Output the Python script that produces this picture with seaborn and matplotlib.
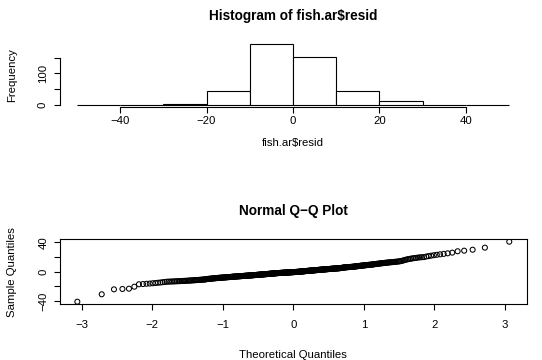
import statistics
import numpy as np
import pandas as pd
import matplotlib
matplotlib.use("Agg")
import matplotlib.pyplot as plt
import seaborn as sns

resid = [
    -40.8, -30.7, -24.0, -23.5, -23.1, -20.4,
    -17.1, -16.8, -16.4, -16.1, -15.7, -15.4, -15.0, -14.7, -14.3, -14.0, -13.6,
    -13.5, -13.4, -13.3, -13.2, -13.1, -13.0, -12.9, -12.8, -12.7, -12.6, -12.5, -12.4,
    -12.3, -12.2, -12.1, -12.0, -11.9, -11.8, -11.7, -11.6, -11.5, -11.4, -11.3, -11.2,
    -11.1, -11.0, -10.9, -10.8, -10.7, -10.6, -10.5, -10.4, -10.2,
    -9.9, -9.8, -9.7, -9.6, -9.5, -9.4, -9.3, -9.2, -9.1, -9.0, -8.9, -8.8, -8.7, -8.6, -8.5,
    -8.4, -8.3, -8.3, -8.2, -8.1, -8.1, -8.0, -7.9, -7.9, -7.8, -7.7, -7.7, -7.6, -7.5, -7.5,
    -7.4, -7.3, -7.3, -7.2, -7.1, -7.1, -7.0, -6.9, -6.9, -6.8, -6.7, -6.7, -6.6, -6.5, -6.5,
    -6.4, -6.4, -6.3, -6.3, -6.2, -6.2, -6.1, -6.1, -6.0, -6.0, -5.9, -5.9, -5.8, -5.8,
    -5.7, -5.7, -5.6, -5.6, -5.5, -5.5,
    -5.4, -5.4, -5.3, -5.3, -5.2, -5.2, -5.1, -5.1, -5.0, -5.0, -4.9, -4.9, -4.8, -4.8,
    -4.7, -4.7, -4.6, -4.6, -4.5, -4.5,
    -4.4, -4.4, -4.3, -4.3, -4.2, -4.2, -4.1, -4.1, -4.0, -4.0, -3.9, -3.9, -3.8, -3.8,
    -3.7, -3.7, -3.6, -3.6, -3.5, -3.5,
    -3.4, -3.4, -3.3, -3.3, -3.2, -3.2, -3.1, -3.1, -3.0, -3.0, -2.9, -2.9, -2.8, -2.8,
    -2.7, -2.7, -2.6, -2.6, -2.5, -2.5,
    -2.4, -2.4, -2.3, -2.3, -2.2, -2.2, -2.1, -2.1, -2.0, -2.0,
    -1.9, -1.9, -1.9, -1.8, -1.8, -1.8, -1.7, -1.7, -1.7, -1.6, -1.6, -1.6,
    -1.5, -1.5, -1.5, -1.4, -1.4, -1.4,
    -1.3, -1.3, -1.3, -1.2, -1.2, -1.2, -1.1, -1.1, -1.1, -1.0, -1.0, -1.0,
    -0.9, -0.9, -0.9, -0.8, -0.8, -0.8,
    -0.7, -0.7, -0.7, -0.6, -0.6, -0.6, -0.5, -0.5, -0.5, -0.4, -0.4, -0.4,
    -0.3, -0.3, -0.3, -0.2, -0.2, -0.2, -0.1, -0.1, -0.1,
    0.1, 0.1, 0.2, 0.2, 0.3, 0.3, 0.4, 0.4, 0.5, 0.5, 0.6, 0.6, 0.7, 0.7, 0.8, 0.8,
    0.9, 0.9, 1.0, 1.0,
    1.1, 1.1, 1.2, 1.2, 1.3, 1.3, 1.4, 1.4, 1.5, 1.5, 1.6, 1.6, 1.7, 1.7, 1.8, 1.8,
    1.9, 1.9, 2.0, 2.0,
    2.1, 2.1, 2.2, 2.2, 2.3, 2.3, 2.4, 2.4, 2.5, 2.5, 2.6, 2.6, 2.7, 2.7, 2.8, 2.8,
    2.9, 2.9, 3.0, 3.0,
    3.1, 3.1, 3.2, 3.2, 3.3, 3.3, 3.4, 3.4, 3.5, 3.5, 3.6, 3.6, 3.7, 3.7, 3.8, 3.8,
    3.9, 3.9, 4.0, 4.0,
    4.1, 4.1, 4.2, 4.2, 4.3, 4.3, 4.4, 4.4, 4.5, 4.5, 4.6, 4.6, 4.7, 4.7, 4.8, 4.8,
    4.9, 5.0, 5.1, 5.2, 5.3, 5.4, 5.5, 5.6, 5.7, 5.8, 5.9, 6.0,
    6.1, 6.1, 6.2, 6.2, 6.3, 6.3, 6.4, 6.4, 6.5, 6.5, 6.6, 6.6,
    6.7, 6.8, 6.9, 7.0, 7.1, 7.2, 7.3, 7.4, 7.5, 7.6, 7.7, 7.8, 7.9, 8.0, 8.1, 8.2,
    8.3, 8.4, 8.5, 8.6, 8.7, 8.8, 8.9, 9.0, 9.1, 9.2, 9.3, 9.4, 9.5, 9.6, 9.7, 9.8, 9.9,
    10.1, 10.2, 10.4, 10.5, 10.7, 10.8, 10.9, 11.1, 11.2, 11.4, 11.5, 11.6, 11.8, 11.9,
    12.1, 12.2, 12.3, 12.5, 12.6, 12.8, 12.9, 13.0, 13.2, 13.3, 13.5, 13.6, 13.8, 14.0,
    14.2, 14.5,
    15.0, 15.6, 16.1, 16.6, 17.0, 17.4, 17.8, 18.2, 18.5, 18.8, 19.2, 19.5, 19.7, 19.9,
    20.6, 21.2, 21.8, 22.4, 23.0, 23.6, 24.2, 25.0, 25.9, 27.8, 28.6, 29.9,
    32.7, 40.8,
]

hist_breaks = [-50, -40, -30, -20, -10, 0, 10, 20, 30, 40, 50]
hist_xticks = [-40, -20, 0, 20, 40]
hist_yticks = [0, 50, 100, 150]
hist_ytick_labels = ["0", "", "100", ""]
qq_xticks = [-3, -2, -1, 0, 1, 2, 3]
qq_yticks = [-40, -20, 0, 20, 40]
qq_ytick_labels = ["\u221240", "", "0", "", "40"]

hist_title = "Histogram of fish.ar\\$resid"
hist_xlabel = "fish.ar\\$resid"
hist_ylabel = "Frequency"
qq_title = "Normal Q\u2212Q Plot"
qq_xlabel = "Theoretical Quantiles"
qq_ylabel = "Sample Quantiles"

# ---------------- derived ----------------
sample = np.sort(np.array(resid, dtype=float))
n = len(sample)
nd = statistics.NormalDist()
theo = np.array([nd.inv_cdf((i - 0.5) / n) for i in range(1, n + 1)])
qq_df = pd.DataFrame({"theoretical": theo, "sample": sample})

# ---------------- style ----------------
sns.set_theme(style="ticks")
plt.rcParams["font.family"] = ["Liberation Sans", "DejaVu Sans"]
plt.rcParams["axes.unicode_minus"] = True
for k in ["text.color", "axes.labelcolor", "xtick.color", "ytick.color",
          "axes.edgecolor"]:
    plt.rcParams[k] = "black"

W, H = 542, 360
FS = 8.2
TFS = 9.8
LW = 0.8

fig = plt.figure(figsize=(W / 100, H / 100), dpi=100)
fig.patch.set_facecolor("white")


def rect(l, t, r, b):
    return [l / W, 1 - b / H, (r - l) / W, (b - t) / H]


# ---------------- histogram ----------------
ax1 = fig.add_axes(rect(59.7, 41.9, 526.3, 107.4))
sns.histplot(x=sample, bins=hist_breaks, ax=ax1, color="white", edgecolor="black",
             linewidth=LW, alpha=1.0, stat="count")
ax1.set_xlim(-54, 54)
ax1.set_ylim(-7.68, 199.68)
ax1.set_facecolor("white")
for s in ["top", "right"]:
    ax1.spines[s].set_visible(False)
ax1.spines["bottom"].set_bounds(hist_xticks[0], hist_xticks[-1])
ax1.spines["left"].set_bounds(hist_yticks[0], hist_yticks[-1])
for s in ["bottom", "left"]:
    ax1.spines[s].set_linewidth(LW)
    ax1.spines[s].set_color("black")
ax1.set_xticks(hist_xticks)
ax1.set_xticklabels([f"{v}".replace("-", "\u2212") for v in hist_xticks])
ax1.set_yticks(hist_yticks)
ax1.set_yticklabels(hist_ytick_labels)
ax1.tick_params(axis="x", direction="out", length=4.5, width=LW, pad=2.0,
                labelsize=FS, colors="black")
ax1.tick_params(axis="y", direction="out", length=4.5, width=LW, pad=4.0,
                labelsize=FS, colors="black", labelrotation=90)
for lab in ax1.get_yticklabels():
    lab.set_va("center")
ax1.set_xlabel("")
ax1.set_ylabel("")
ax1.grid(False)

# ---------------- Q-Q plot ----------------
ax2 = fig.add_axes(rect(60.1, 239.3, 526.5, 304.1))
sns.scatterplot(data=qq_df, x="theoretical", y="sample", ax=ax2, marker="o",
                s=13, facecolor="none", edgecolor="black", linewidth=0.75)
ax2.set_xlim(-3.305, 3.305)
ax2.set_ylim(-44.06, 44.06)
ax2.set_facecolor("white")
for s in ax2.spines.values():
    s.set_visible(True)
    s.set_linewidth(LW)
    s.set_color("black")
ax2.set_xticks(qq_xticks)
ax2.set_xticklabels([f"{v}".replace("-", "\u2212") for v in qq_xticks])
ax2.set_yticks(qq_yticks)
ax2.set_yticklabels(qq_ytick_labels)
ax2.tick_params(axis="x", direction="out", length=4.5, width=LW, pad=7.0,
                labelsize=FS, colors="black")
ax2.tick_params(axis="y", direction="out", length=4.5, width=LW, pad=4.0,
                labelsize=FS, colors="black", labelrotation=90)
for lab in ax2.get_yticklabels():
    lab.set_va("center")
ax2.set_xlabel("")
ax2.set_ylabel("")
ax2.grid(False)

# ---------------- titles / labels ----------------
cx = 293 / W
fig.text(cx, 1 - 19.8 / H, hist_title, ha="center", va="baseline",
         fontsize=TFS, fontweight="bold", color="black")
fig.text(cx, 1 - 146 / H, hist_xlabel, ha="center", va="baseline", fontsize=FS,
         color="black")
fig.text(15.5 / W, 1 - 74.6 / H, hist_ylabel, ha="center", va="baseline",
         rotation=90, rotation_mode="anchor", fontsize=FS, color="black")

fig.text(cx, 1 - 215.5 / H, qq_title, ha="center", va="baseline",
         fontsize=TFS, fontweight="bold", color="black")
fig.text(cx, 1 - 357.5 / H, qq_xlabel, ha="center", va="baseline", fontsize=FS,
         color="black")
fig.text(15.5 / W, 1 - 271.7 / H, qq_ylabel, ha="center", va="baseline",
         rotation=90, rotation_mode="anchor", fontsize=FS, color="black")

fig.savefig("out.png", dpi=100, facecolor="white")
